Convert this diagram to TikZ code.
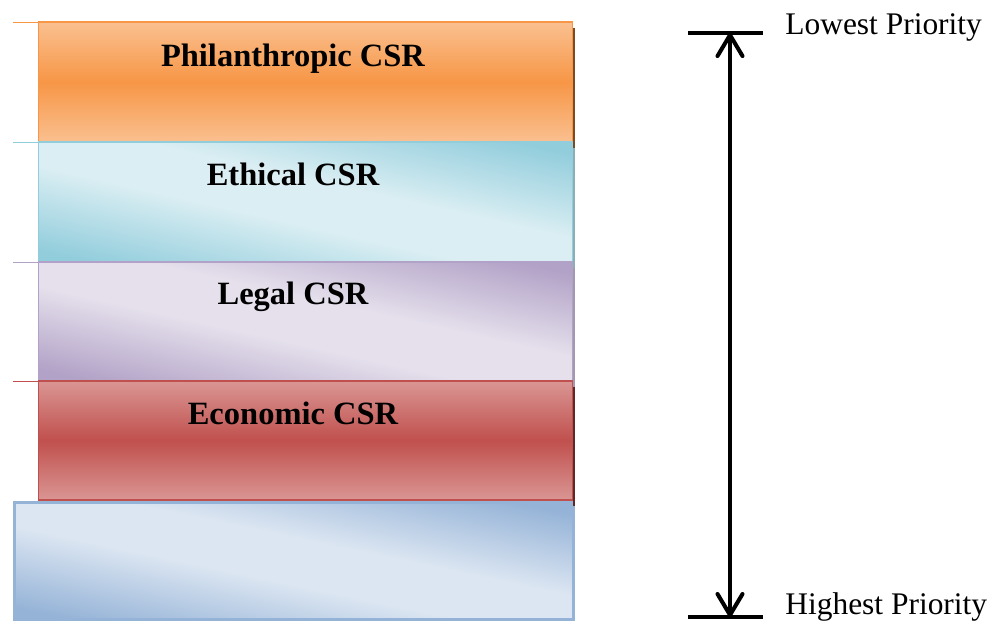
\documentclass[tikz,border=0pt]{standalone}
\usepackage{fontspec}
\setmainfont{Liberation Serif}
\usetikzlibrary{arrows.meta}

\definecolor{philLight}{HTML}{FAC090}
\definecolor{philDark}{HTML}{F79646}
\definecolor{ethLight}{HTML}{DAEEF3}
\definecolor{ethDark}{HTML}{92CDDC}
\definecolor{legLight}{HTML}{E5E0EC}
\definecolor{legDark}{HTML}{B2A2C7}
\definecolor{ecoLight}{HTML}{DA9694}
\definecolor{ecoDark}{HTML}{C0504D}
\definecolor{baseLight}{HTML}{DCE6F2}
\definecolor{baseDark}{HTML}{95B3D7}
\colorlet{csrLight}{white}
\colorlet{csrDark}{gray}

% light middle, dark towards lower left and upper right corners
\pgfdeclarefunctionalshading[csrLight,csrDark]{csrslant}{\pgfpoint{0bp}{0bp}}{\pgfpoint{100bp}{100bp}}{%
  \pgfshadecolortorgb{csrLight}{\lt}%
  \pgfshadecolortorgb{csrDark}{\dk}%
  \pgfmathsetmacro\dr{\dkred-\ltred}%
  \pgfmathsetmacro\dg{\dkgreen-\ltgreen}%
  \pgfmathsetmacro\db{\dkblue-\ltblue}%
}{%
  add 100 sub 50 div abs 0.2 sub 0.7 div
  dup 0 lt {pop 0} if dup 1 gt {pop 1} if
  dup dup \dr\space mul \ltred\space add 3 1 roll
  \dg\space mul \ltgreen\space add exch
  \db\space mul \ltblue\space add
}

\begin{document}
\begin{tikzpicture}[x=0.02cm, y=-0.02cm,
    bar/.style={rectangle, inner sep=0pt, outer sep=0pt, minimum width=10.7cm, minimum height=2.4cm},
    band/.style 2 args={bar, top color=#1, bottom color=#1, middle color=#2, draw=#2, line width=0.6pt},
    slant/.style 2 args={bar, draw=#2, line width=0.6pt,
        /utils/exec={\colorlet{csrLight}{#1}\colorlet{csrDark}{#2}}, shade, shading=csrslant},
    shadow/.style={fill=#1, draw=none},
    bartext/.style={font=\bfseries\fontsize{18.5}{22}\selectfont, inner sep=0pt, anchor=base},
    prio/.style={font=\fontsize{17.9}{21}\selectfont, inner sep=0pt, anchor=base west}]

    \useasboundingbox (0,0) rectangle (1004,620);

    \node[band={philLight}{philDark}] (phil) at (305.5,82) {};
    \node[slant={ethLight}{ethDark}] (eth) at (305.5,202) {};
    \node[slant={legLight}{legDark}, minimum height=2.38cm] (leg) at (305.5,321.5) {};
    \node[band={ecoLight}{ecoDark}, minimum height=2.38cm] (eco) at (305.5,440.5) {};
    \node[slant={baseLight}{baseDark}, minimum width=11.18cm, minimum height=2.34cm,
        line width=1.6pt] (base) at (294,561) {};

    % right-hand shadows of the bars
    \path[shadow=philDark!50!black] ([yshift=-0.12cm]phil.north east) rectangle ([xshift=0.05cm,yshift=-0.12cm]phil.south east);
    \path[shadow=ethDark!60!gray] ([yshift=-0.12cm]eth.north east) rectangle ([xshift=0.04cm,yshift=-0.12cm]eth.south east);
    \path[shadow=legDark!70!gray] ([yshift=-0.12cm]leg.north east) rectangle ([xshift=0.04cm,yshift=-0.12cm]leg.south east);
    \path[shadow=ecoDark!50!black] ([yshift=-0.12cm]eco.north east) rectangle ([xshift=0.05cm,yshift=-0.12cm]eco.south east);

    \draw[philDark, thin] ([xshift=-0.5cm]phil.north west) -- (phil.north west);
    \draw[ethDark, thin] ([xshift=-0.5cm]eth.north west) -- (eth.north west);
    \draw[legDark, thin] ([xshift=-0.5cm]leg.north west) -- (leg.north west);
    \draw[ecoDark, thin] ([xshift=-0.5cm]eco.north west) -- (eco.north west);

    \node[bartext] (philtxt) at (293,66) {Philanthropic CSR};
    \node[bartext] (ethtxt) at (293,185) {Ethical CSR};
    \node[bartext] (legtxt) at (293,304) {Legal CSR};
    \node[bartext] (ecotxt) at (293,424) {Economic CSR};

    \coordinate (low) at (730,33);
    \coordinate (high) at (730,617);
    \draw[line width=1.9pt] ([xshift=-0.84cm]low) -- ([xshift=0.66cm]low);
    \draw[line width=1.9pt] ([xshift=-0.84cm]high) -- ([xshift=0.66cm]high);
    \draw[line width=2.3pt, {Straight Barb[length=0.42cm,width=0.5cm,round]}-{Straight Barb[length=0.42cm,width=0.5cm,round]}] (low) -- (high);

    \node[prio] (lowtxt) at (785,34) {Lowest Priority};
    \node[prio] (hightxt) at (785,614) {Highest Priority};
\end{tikzpicture}
\end{document}
